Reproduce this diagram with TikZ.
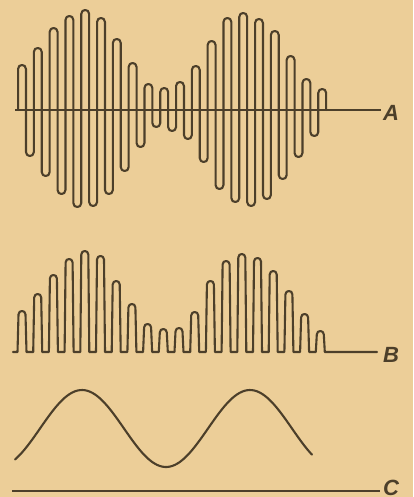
\documentclass[tikz,border=0pt]{standalone}
\usepackage{fontspec}
\setsansfont{Liberation Sans}
\definecolor{paper}{RGB}{236,206,152}
\definecolor{ink}{RGB}{76,63,42}
\tikzset{
  wave/.style={draw=ink, line width=2.1pt, line join=round, line cap=round},
  axisline/.style={draw=ink, line width=2pt},
  lab/.style={text=ink, inner sep=0pt, anchor=base west, font=\sffamily\bfseries\itshape\fontsize{22}{22}\selectfont}
}
\begin{document}
\begin{tikzpicture}[x=1pt,y=-1pt]
\fill[paper] (0,0) rectangle (413,497);
\useasboundingbox (0,0) rectangle (413,497);
% ---- A ----
\coordinate (a0) at (15,110);
\coordinate (a1) at (381,110);
\coordinate (aS) at (18.05,110);
\coordinate (aE) at (326.15,110);
\draw[axisline] (a0) -- (a1);
\draw[wave] (aS) \foreach \s [count=\j from 0] in
 {45,-46,62,-66,82,-84,94,-97,100,-96,92,-84,71,-61,47,-37,26,-17,22,-21,28,-29,44,-52,69,-79,92,-92,97,-96,91,-89,79,-69,54,-47,31,-26,21}
 { -- ({22+7.9*\j-3.95},{110-(\s)+3.95*sign(\s)})
   .. controls ({22+7.9*\j-3.95},{110-(\s)-1.3167*sign(\s)}) and ({22+7.9*\j+3.95},{110-(\s)-1.3167*sign(\s)})
   .. ({22+7.9*\j+3.95},{110-(\s)+3.95*sign(\s)}) } -- (aE);
\node[lab] (labA) at (383,121) {A};
% ---- B ----
\coordinate (b0) at (13,352);
\coordinate (b1) at (377,352);
\draw[wave] (b0) \foreach \h [count=\j from 0] in
 {41,58,77,93,101,96,71,48,28,23,24,40,71,91,98,94,81,61,38,21}
 { -- ({22+15.7*\j-4.5},352) -- ({22+15.7*\j-3.5},{352-\h+3.5})
   .. controls ({22+15.7*\j-3.5},{352-\h-1.1667}) and ({22+15.7*\j+3.5},{352-\h-1.1667})
   .. ({22+15.7*\j+3.5},{352-\h+3.5}) -- ({22+15.7*\j+4.5},352) } -- (b1);
\node[lab] (labB) at (383,362) {B};
% ---- C ----
\draw[wave] plot[domain=15:312, samples=120, smooth] (\x,{428.5-38.5*cos((\x-82)/168*360)});
\coordinate (c0) at (12,491);
\coordinate (c1) at (380,491);
\draw[axisline] (c0) -- (c1);
\node[lab] (labC) at (383,495) {C};
\end{tikzpicture}
\end{document}
